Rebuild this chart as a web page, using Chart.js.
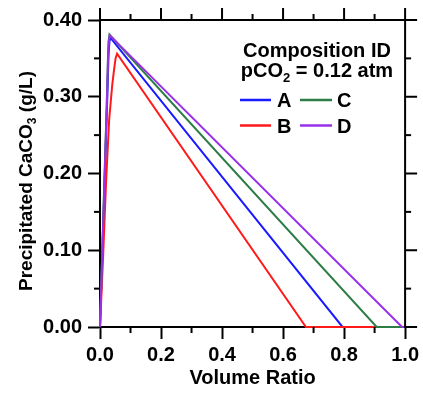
<!DOCTYPE html>
<html><head><meta charset="utf-8">
<script src="https://cdn.jsdelivr.net/npm/chart.js@4/dist/chart.umd.min.js"></script>
<style>html,body{margin:0;padding:0;background:#fff}</style>
</head><body>
<canvas id="c" width="423" height="393"></canvas>
<script>
// ---- data ----
const seriesLabels = ['A', 'B', 'C', 'D'];
const seriesColors = ['#1a1aff', '#ff1a1a', '#2d7d46', '#9b30e8'];
const xA = [0, 0.012, 0.024, 0.028, 0.031, 0.034, 0.795, 1.0];
const yA = [0, 0.150, 0.300, 0.355, 0.372, 0.377, 0, 0];
const xB = [0, 0.010, 0.020, 0.030, 0.040, 0.046, 0.051, 0.056, 0.675, 1.0];
const yB = [0, 0.090, 0.190, 0.270, 0.315, 0.335, 0.350, 0.356, 0, 0];
const xC = [0, 0.012, 0.022, 0.026, 0.028, 0.031, 0.907, 1.0];
const yC = [0, 0.160, 0.290, 0.350, 0.372, 0.381, 0, 0];
const xD = [0, 0.012, 0.022, 0.026, 0.029, 0.032, 0.990, 1.0];
const yD = [0, 0.155, 0.285, 0.345, 0.372, 0.380, 0, 0];
const xMajor = [0, 0.2, 0.4, 0.6, 0.8, 1.0];
const xMinor = [0.1, 0.3, 0.5, 0.7, 0.9];
const yMajor = [0, 0.1, 0.2, 0.3, 0.4];
const yMinor = [0.05, 0.15, 0.25, 0.35];
const xTitle = 'Volume Ratio';
const yTitleParts = ['Precipitated CaCO', '3', ' (g/L)'];
const legendTitle1 = 'Composition ID';
const legendTitle2Parts = ['pCO', '2', ' = 0.12 atm'];

const FONT = "'Liberation Sans', Arial, sans-serif";
const xsList = [xA, xB, xC, xD];
const ysList = [yA, yB, yC, yD];
const drawOrder = [3, 2, 1, 0]; // purple on top, then green, red, blue

const datasets = seriesLabels.map((lab, i) => ({
  label: lab,
  data: xsList[i].map((x, k) => ({x: x, y: ysList[i][k]})),
  borderColor: seriesColors[i],
  backgroundColor: seriesColors[i],
  borderWidth: 2,
  pointRadius: 0,
  tension: 0,
  fill: false,
  clip: 4,
  order: drawOrder[i]
}));

function line(ctx, x1, y1, x2, y2) { ctx.beginPath(); ctx.moveTo(x1, y1); ctx.lineTo(x2, y2); ctx.stroke(); }

function drawSub(ctx, parts, size, subSize, subDrop) {
  // draws parts[0] + subscript parts[1] + parts[2], centered at 0 on baseline 0
  ctx.font = 'bold ' + size + 'px ' + FONT;
  const w0 = ctx.measureText(parts[0]).width;
  const w2 = ctx.measureText(parts[2]).width;
  ctx.font = 'bold ' + subSize + 'px ' + FONT;
  const w1 = ctx.measureText(parts[1]).width;
  let x = -(w0 + w1 + w2) / 2;
  ctx.textAlign = 'left';
  ctx.textBaseline = 'alphabetic';
  ctx.font = 'bold ' + size + 'px ' + FONT;
  ctx.fillText(parts[0], x, 0); x += w0;
  ctx.font = 'bold ' + subSize + 'px ' + FONT;
  ctx.fillText(parts[1], x, subDrop); x += w1;
  ctx.font = 'bold ' + size + 'px ' + FONT;
  ctx.fillText(parts[2], x, 0);
}

const framePlugin = {
  id: 'frame',
  afterDraw(chart) {
    const ctx = chart.ctx;
    const xs = chart.scales.x, ys = chart.scales.y;
    const {left, right, top, bottom} = chart.chartArea;
    ctx.save();
    ctx.strokeStyle = '#000';
    ctx.lineWidth = 2;
    line(ctx, left - 1, top, right + 1, top);
    line(ctx, right, top, right, bottom + 1);
    xMinor.forEach(v => { const p = xs.getPixelForValue(v); line(ctx, p, bottom, p, bottom + 6); line(ctx, p, top, p, top - 6); });
    xMajor.forEach(v => { const p = xs.getPixelForValue(v); line(ctx, p, top, p, top - 12); });
    yMinor.forEach(v => { const p = ys.getPixelForValue(v); line(ctx, left, p, left - 6, p); line(ctx, right, p, right + 6, p); });
    yMajor.forEach(v => { const p = ys.getPixelForValue(v); line(ctx, right, p, right + 12, p); });

    ctx.fillStyle = '#000';
    // y title (rotated, with subscript)
    ctx.save();
    ctx.translate(32, 181);
    ctx.rotate(-Math.PI / 2);
    drawSub(ctx, yTitleParts, 19, 12, 4);
    ctx.restore();

    // legend title
    ctx.save();
    ctx.translate(317, 57);
    ctx.font = 'bold 20px ' + FONT;
    ctx.textAlign = 'center';
    ctx.textBaseline = 'alphabetic';
    ctx.fillText(legendTitle1, 0, 0);
    ctx.translate(0, 20);
    drawSub(ctx, legendTitle2Parts, 20, 13, 5);
    ctx.restore();

    // legend items: column-major (A,B | C,D)
    const colLineX = [[240, 271], [300, 332]];
    const colTextX = [277, 337];
    const rowY = [100, 125.5];
    ctx.font = 'bold 20px ' + FONT;
    ctx.textAlign = 'left';
    ctx.textBaseline = 'alphabetic';
    seriesLabels.forEach((lab, i) => {
      const col = Math.floor(i / 2), row = i % 2;
      ctx.strokeStyle = seriesColors[i];
      ctx.lineWidth = 2.5;
      line(ctx, colLineX[col][0], rowY[row], colLineX[col][1], rowY[row]);
      ctx.fillStyle = '#000';
      ctx.fillText(lab, colTextX[col], rowY[row] + 7);
    });
    ctx.restore();
  }
};

new Chart(document.getElementById('c'), {
  type: 'line',
  data: {datasets: datasets},
  options: {
    responsive: false,
    animation: false,
    devicePixelRatio: 1,
    layout: {padding: {top: 20, right: 17, left: 0, bottom: 0}},
    plugins: {legend: {display: false}, tooltip: {enabled: false}},
    scales: {
      x: {
        type: 'linear', min: 0, max: 1,
        afterFit(s) { s.height = 66; },
        afterBuildTicks(s) { s.ticks = xMajor.map(v => ({value: v})); },
        ticks: {callback: v => Number(v).toFixed(1), font: {family: FONT, size: 20, weight: 'bold'}, color: '#000', padding: 4, maxRotation: 0, autoSkip: false},
        grid: {display: true, drawOnChartArea: false, drawTicks: true, tickLength: 12, tickWidth: 2, tickColor: '#000', color: '#000'},
        border: {display: true, color: '#000', width: 2},
        title: {display: true, text: xTitle, color: '#000', font: {family: FONT, size: 20, weight: 'bold'}, padding: {top: 0, bottom: 3}}
      },
      y: {
        type: 'linear', min: 0, max: 0.4,
        afterFit(s) { s.width = 100; },
        afterBuildTicks(s) { s.ticks = yMajor.map(v => ({value: v})); },
        ticks: {callback: v => Number(v).toFixed(2), font: {family: FONT, size: 20, weight: 'bold'}, color: '#000', padding: 6, autoSkip: false},
        grid: {display: true, drawOnChartArea: false, drawTicks: true, tickLength: 12, tickWidth: 2, tickColor: '#000', color: '#000'},
        border: {display: true, color: '#000', width: 2},
        title: {display: false}
      }
    }
  },
  plugins: [framePlugin]
});
</script>
</body></html>
